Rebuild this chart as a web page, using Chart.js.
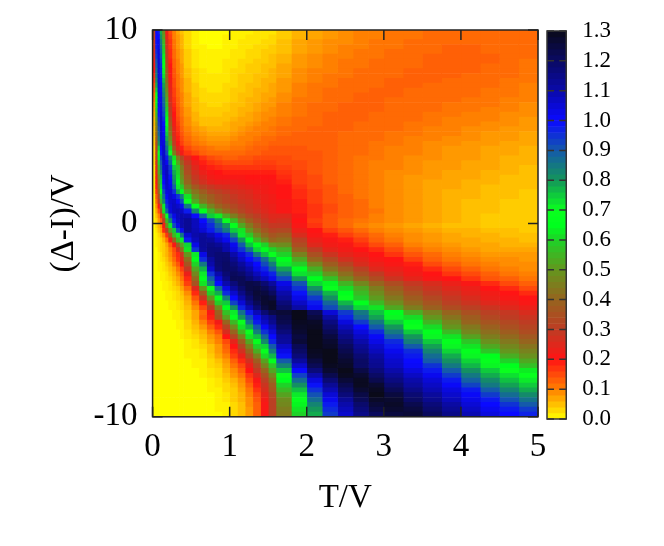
<!DOCTYPE html>
<html>
<head>
<meta charset="utf-8">
<style>
  html, body { margin: 0; background: #fff; }
  canvas { position: absolute; top: 0; }
</style>
<script src="https://cdn.jsdelivr.net/npm/chart.js@4"></script>
</head>
<body>
<canvas id="map" width="664" height="546" style="left:0"></canvas>
<canvas id="bar" width="124" height="546" style="left:540px"></canvas>
<script>
// T/V column edges (finer near 0 where the ridges are narrow)
const tEdges = [0,.03,.06,.09,.12,.16,.2,.25,.3,.35,.4,.5,.6,.7,.8,.9,1,1.1,1.2,1.3,1.4,1.5,1.6,1.8,2,2.2,2.4,2.6,2.8,3,3.25,3.5,3.75,4,4.25,4.5,4.75,5];
// (Δ-I)/V row centres, top to bottom
const yCentres = [9.875,9.625,9.375,9.125,8.875,8.625,8.375,8.125,7.875,7.625,7.375,7.125,6.875,6.625,6.375,6.125,5.875,5.625,5.375,5.125,4.875,4.625,4.375,4.125,3.875,3.625,3.375,3.125,2.875,2.625,2.375,2.125,1.875,1.625,1.375,1.125,.875,.625,.375,.125,-.125,-.375,-.625,-.875,-1.125,-1.375,-1.625,-1.875,-2.125,-2.375,-2.625,-2.875,-3.125,-3.375,-3.625,-3.875,-4.125,-4.375,-4.625,-4.875,-5.125,-5.375,-5.625,-5.875,-6.125,-6.375,-6.625,-6.875,-7.125,-7.375,-7.625,-7.875,-8.125,-8.375,-8.625,-8.875,-9.125,-9.375,-9.625,-9.875];
// cell values x100, one line per row of yCentres
const heat = [
[32,100,98,78,48,22,15,10,7,5,3,1,0,0,0,0,1,1,1,2,2,2,4,6,7,8,9,10,10,11,11,12,12,12,12,12,12],
[30,100,100,81,51,24,16,10,8,6,3,1,0,0,0,1,1,1,2,2,2,3,4,6,7,8,9,10,10,11,11,12,12,12,12,12,12],
[29,99,102,85,55,26,17,11,8,6,3,1,0,0,0,1,1,2,2,2,3,3,5,7,8,9,9,10,11,11,12,12,12,12,12,12,12],
[28,98,103,88,58,27,17,11,8,6,3,1,1,0,0,1,1,2,2,3,3,4,5,7,8,9,10,10,11,11,12,12,13,13,12,12,12],
[26,96,104,90,60,29,18,12,9,7,4,2,1,1,1,1,2,2,3,3,4,4,5,7,8,9,10,11,11,12,12,12,13,13,12,12,12],
[25,94,104,92,63,30,18,12,9,7,4,2,1,1,1,1,2,2,3,3,4,5,6,8,9,10,10,11,11,12,12,13,13,13,13,12,12],
[23,91,105,94,66,32,19,13,10,7,4,2,1,1,1,2,2,3,3,4,4,5,6,8,9,10,11,11,12,12,12,13,13,13,13,12,11],
[21,89,105,96,69,34,20,13,10,8,4,2,1,1,1,2,2,3,4,4,5,5,7,8,9,10,11,11,12,12,12,13,13,13,12,12,11],
[20,86,105,97,71,37,21,14,10,8,5,3,2,1,1,2,3,3,4,4,5,6,7,9,10,10,11,12,12,12,13,13,13,13,12,12,11],
[18,84,105,98,73,39,21,14,11,8,5,3,2,2,2,2,3,4,4,5,5,6,7,9,10,11,11,12,12,12,13,13,13,12,12,12,11],
[17,81,105,99,76,41,22,15,11,9,6,3,2,2,2,2,3,4,4,5,6,6,8,9,10,11,12,12,12,13,13,13,12,12,12,11,11],
[15,78,105,100,79,44,23,15,11,9,6,4,2,2,2,3,3,4,5,5,6,7,8,10,11,11,12,12,12,13,13,12,12,12,12,11,10],
[14,74,104,101,81,47,24,16,12,9,6,4,3,2,2,3,4,4,5,6,6,7,8,10,11,12,12,12,13,13,12,12,12,12,11,11,10],
[12,70,104,102,84,50,25,16,12,10,7,4,3,3,3,3,4,5,5,6,7,7,9,10,11,12,12,13,13,13,12,12,12,12,11,11,10],
[11,67,103,103,87,53,26,17,13,10,7,5,3,3,3,3,4,5,6,6,7,8,9,11,11,12,12,13,13,12,12,12,12,11,11,10,10],
[9,63,102,104,89,56,28,18,13,10,7,5,4,3,3,4,5,5,6,7,8,8,10,11,12,12,13,13,13,12,12,12,11,11,11,10,9],
[8,60,100,104,91,59,30,19,14,11,8,5,4,4,4,4,5,6,6,7,8,9,10,11,12,12,13,13,13,12,12,12,11,11,10,10,9],
[7,56,99,105,93,62,32,20,14,11,8,6,4,4,4,5,5,6,7,8,9,9,10,11,12,13,13,13,12,12,12,11,11,10,10,9,9],
[6,52,96,106,96,65,35,21,15,12,9,6,5,5,5,5,6,7,7,8,9,10,11,12,12,13,13,13,12,12,12,11,10,10,10,9,8],
[6,48,94,106,99,69,38,22,16,12,9,7,5,5,5,6,7,7,8,9,10,10,11,12,12,13,13,12,12,12,11,11,10,10,9,9,8],
[5,44,91,106,101,72,41,24,17,13,10,8,7,6,6,6,7,8,9,10,10,11,12,12,13,13,13,12,12,12,11,10,10,9,9,8,8],
[5,41,88,106,102,75,44,25,18,14,11,9,8,7,7,7,8,9,10,10,11,11,12,13,13,13,12,12,12,11,11,10,10,9,8,8,7],
[4,37,84,105,103,78,48,27,19,15,12,10,9,8,8,8,9,10,10,11,12,12,13,13,13,13,12,12,12,11,10,10,9,9,8,8,7],
[4,34,80,104,104,82,52,29,21,16,13,11,10,9,9,9,10,10,11,12,12,13,13,13,13,13,12,12,11,11,10,9,9,8,8,7,7],
[3,32,74,101,106,87,60,35,24,19,15,13,12,11,10,10,11,11,12,13,13,14,14,14,13,13,12,12,11,10,10,9,8,8,7,7,6],
[3,31,70,99,106,92,70,44,30,22,17,15,13,12,12,12,12,12,13,13,14,14,14,14,14,13,12,12,11,10,10,9,8,8,7,7,6],
[3,29,64,94,107,98,82,62,44,33,25,20,17,15,14,13,13,14,14,15,15,15,15,14,14,13,12,11,11,10,9,9,8,8,7,6,6],
[3,27,60,90,106,102,88,70,52,39,29,23,19,17,16,15,15,15,15,16,16,16,15,15,14,13,12,11,10,10,9,8,8,7,7,6,6],
[2,25,56,87,105,107,94,75,58,44,32,25,21,19,18,17,17,17,17,17,17,17,16,15,14,13,12,11,10,10,9,8,8,7,7,6,5],
[2,24,53,82,104,108,96,78,60,47,34,27,23,21,20,19,19,19,19,19,19,19,17,16,14,13,12,11,10,9,9,8,7,7,6,6,5],
[2,22,49,77,102,108,99,80,62,49,37,29,25,22,21,21,21,21,20,20,20,20,18,16,15,13,12,11,10,9,8,8,7,7,6,5,5],
[2,21,47,75,100,107,101,83,65,52,40,31,27,24,23,23,23,22,21,21,21,21,19,16,15,13,12,11,10,9,8,7,7,6,6,5,5],
[2,19,44,73,97,106,103,89,72,59,45,37,32,29,27,26,25,24,23,22,22,21,20,17,15,14,12,11,10,9,8,7,7,6,5,5,5],
[2,17,40,69,92,104,105,95,78,65,52,43,38,33,31,29,27,26,25,23,22,21,20,18,16,14,12,11,10,9,8,7,6,6,5,5,4],
[1,14,34,60,87,101,106,103,95,84,62,48,42,38,34,32,29,27,26,24,23,22,20,18,16,14,13,11,10,9,8,7,6,6,5,5,4],
[1,12,29,55,82,98,106,107,101,92,70,53,44,39,35,32,30,28,27,25,23,22,21,19,16,14,13,12,10,9,8,7,6,5,5,4,4],
[1,9,21,42,72,95,105,108,106,102,85,68,55,46,40,36,33,30,28,26,24,23,21,19,17,15,13,12,10,9,8,7,6,5,5,4,4],
[1,7,15,33,62,88,104,108,109,107,98,82,66,55,47,41,36,32,29,27,25,23,21,19,17,15,13,12,11,9,8,7,6,5,5,4,4],
[1,5,10,18,42,70,93,103,108,110,109,100,88,75,63,53,45,38,33,30,27,25,25,21,17,14,13,12,10,9,8,7,6,5,4,4,4],
[1,3,8,13,30,56,82,98,107,110,113,108,100,92,82,70,56,45,38,33,29,26,27,20,16,14,12,11,10,9,8,7,6,5,4,4,4],
[0,3,6,9,22,48,72,92,103,110,113,108,103,96,88,80,67,53,44,37,32,29,29,21,17,14,12,10,9,8,7,6,5,5,4,4,4],
[0,2,5,7,18,30,52,75,92,102,113,109,105,98,92,85,75,62,50,42,36,32,33,23,20,16,14,12,10,9,8,7,6,6,5,5,4],
[0,1,3,5,9,17,36,56,72,85,105,110,112,108,103,97,84,72,58,48,41,36,38,26,21,19,16,14,12,10,9,8,7,6,6,5,5],
[0,1,2,3,6,11,22,40,56,72,98,108,113,112,107,102,93,80,66,55,47,40,42,31,23,21,19,16,13,11,9,8,7,7,6,6,5],
[0,1,2,3,4,7,13,21,37,52,74,103,113,115,113,109,102,90,76,66,60,50,48,34,25,22,21,18,15,13,10,9,8,7,7,6,6],
[0,0,2,3,4,6,10,15,26,42,62,95,112,116,116,110,104,95,86,74,66,60,55,39,30,24,22,20,18,15,12,10,9,8,7,7,7],
[0,0,1,2,4,6,9,14,18,28,50,72,103,116,118,118,110,104,96,85,76,69,60,46,35,28,24,22,20,17,14,12,10,9,8,8,8],
[0,0,1,2,3,5,8,12,17,24,42,66,96,112,118,119,114,107,100,95,87,77,65,53,40,33,27,24,21,20,16,13,11,10,9,9,8],
[0,0,1,1,2,4,6,10,14,20,36,60,85,110,118,120,117,112,106,100,92,84,72,59,47,38,32,26,23,21,19,15,13,11,10,9,9],
[0,0,1,1,2,3,5,7,11,16,29,53,77,106,117,120,119,115,110,103,97,90,79,65,54,43,37,31,25,23,21,18,15,13,11,10,9],
[0,0,0,1,1,2,4,6,9,13,23,47,72,95,110,118,121,119,114,108,103,97,86,73,60,50,42,35,30,25,22,20,17,15,13,11,10],
[0,0,0,1,1,2,3,5,7,11,18,41,66,89,105,115,122,122,118,113,108,102,93,80,65,57,47,40,34,28,24,21,20,17,14,13,11],
[0,0,0,0,1,1,2,4,6,9,16,36,62,83,100,110,117,122,124,123,118,112,103,91,74,64,55,47,40,34,29,26,23,21,18,15,13],
[0,0,0,0,1,1,2,3,4,7,12,25,50,70,88,103,112,119,124,125,122,117,106,95,81,69,61,53,45,38,32,28,25,23,20,18,15],
[0,0,0,0,0,1,1,2,3,5,9,18,38,60,78,96,106,115,122,126,125,121,110,99,88,77,65,56,48,41,35,30,27,24,22,20,18],
[0,0,0,0,0,1,1,2,3,4,7,14,28,50,68,84,100,110,119,125,127,125,113,103,94,81,70,59,51,44,38,33,29,26,23,21,20],
[0,0,0,0,0,0,1,1,2,3,6,11,19,39,59,75,93,105,115,122,127,128,117,107,98,88,77,66,56,48,41,36,31,28,25,23,21],
[0,0,0,0,0,0,1,1,2,3,5,9,15,30,48,65,81,97,109,118,125,128,120,111,102,92,83,74,62,53,45,39,34,31,28,25,23],
[0,0,0,0,0,0,0,1,1,2,4,7,12,21,39,57,72,86,98,109,118,124,126,130,122,105,94,85,76,65,54,46,40,35,31,29,26],
[0,0,0,0,0,0,0,1,1,2,4,7,13,19,36,52,66,80,92,102,110,116,124,130,125,111,97,88,79,71,61,50,43,38,33,30,28],
[0,0,0,0,0,0,0,0,1,1,3,6,10,16,22,40,56,70,86,98,107,114,123,129,128,116,104,94,85,75,66,55,47,40,36,33,30],
[0,0,0,0,0,0,0,0,1,1,3,5,8,13,18,32,48,62,78,91,101,109,120,128,129,119,108,100,90,80,70,61,50,44,39,35,32],
[0,0,0,0,0,0,0,0,0,1,2,4,6,10,14,26,40,55,70,84,95,105,117,127,130,122,112,104,96,85,75,66,56,47,42,38,34],
[0,0,0,0,0,0,0,0,0,1,2,3,5,8,11,20,32,46,62,76,88,100,113,125,130,125,115,107,101,90,80,71,62,52,45,41,37],
[0,0,0,0,0,0,0,0,0,0,1,2,4,7,10,15,24,38,53,67,82,97,112,126,130,127,118,110,103,96,84,75,67,58,49,44,40],
[0,0,0,0,0,0,0,0,0,0,1,2,3,5,8,13,20,32,46,60,74,90,107,122,130,128,121,113,106,98,90,79,71,62,53,47,43],
[0,0,0,0,0,0,0,0,0,0,1,1,2,5,8,12,18,27,40,54,68,84,103,120,129,130,123,115,108,102,96,83,74,67,58,50,46],
[0,0,0,0,0,0,0,0,0,0,1,1,2,4,7,10,16,23,34,46,61,77,99,117,128,130,125,118,111,104,98,87,78,71,65,54,49],
[0,0,0,0,0,0,0,0,0,0,0,1,1,3,5,8,13,18,27,38,52,66,90,112,125,130,127,120,113,106,100,90,81,74,68,60,53],
[0,0,0,0,0,0,0,0,0,0,0,1,1,3,4,7,11,15,23,33,46,58,83,106,122,129,128,120,114,107,101,95,85,77,71,65,57],
[0,0,0,0,0,0,0,0,0,0,0,0,1,2,3,6,9,13,20,29,40,53,76,100,117,127,130,124,117,110,104,98,90,81,75,70,63],
[0,0,0,0,0,0,0,0,0,0,0,0,1,2,3,5,8,11,17,25,35,47,70,93,110,123,129,127,120,113,107,102,94,85,78,73,69],
[0,0,0,0,0,0,0,0,0,0,0,0,0,1,2,4,6,9,15,21,31,42,65,87,104,118,126,129,123,116,110,105,98,89,82,76,72],
[0,0,0,0,0,0,0,0,0,0,0,0,0,1,2,3,5,8,13,19,28,38,60,81,99,113,123,129,127,119,112,107,101,93,85,79,75],
[0,0,0,0,0,0,0,0,0,0,0,0,0,1,1,3,4,7,11,17,26,36,56,76,95,109,120,127,129,122,115,109,104,98,90,83,78],
[0,0,0,0,0,0,0,0,0,0,0,0,0,0,1,2,4,6,10,15,24,33,52,72,91,105,117,124,130,125,118,112,106,101,94,87,82],
[0,0,0,0,0,0,0,0,0,0,0,0,0,0,1,2,4,6,9,14,22,31,48,68,87,102,113,122,128,127,120,114,108,103,98,91,86],
[0,0,0,0,0,0,0,0,0,0,0,0,0,0,1,1,3,5,9,13,21,31,47,64,83,98,110,119,126,128,123,117,111,105,100,95,90],
[0,0,0,0,0,0,0,0,0,0,0,0,0,0,1,1,3,5,8,13,21,31,45,62,80,96,108,117,124,127,125,119,113,107,102,98,94],
[0,0,0,0,0,0,0,0,0,0,0,0,0,0,0,1,3,5,8,13,21,31,44,60,78,94,106,115,121,125,126,121,115,109,104,100,97]
];
// colour bar steps x100
const barLevels = [0,2,4,6,8,10,12,14,16,18,20,22,24,26,28,30,32,34,36,38,40,42,44,46,48,50,52,54,56,58,60,62,64,66,68,70,72,74,76,78,80,82,84,86,88,90,92,94,96,98,100,102,104,106,108,110,112,114,116,118,120,122,124,126,128];

// palette stops: value x100, r, g, b
const palette = [
	[0,255,255,0],[10,255,128,0],[20,255,20,20],[30,190,60,35],[40,150,100,30],[50,100,150,30],
	[60,30,210,40],[65,0,255,30],[70,10,255,30],[80,20,150,90],[90,20,90,170],[100,10,10,255],
	[110,10,10,170],[120,10,10,100],[130,10,10,25]
];

function colorOf(v) {
	for (let i = 1; i < palette.length; i++) {
		if (v <= palette[i][0]) {
			const a = palette[i - 1], b = palette[i];
			const f = (v - a[0]) / (b[0] - a[0]);
			const c = [1, 2, 3].map(k => Math.round(a[k] + (b[k] - a[k]) * f));
			return `rgb(${c[0]},${c[1]},${c[2]})`;
		}
	}
	return 'rgb(10,10,25)';
}

// frame and inward ticks, both sides
const framePlugin = {
	id: 'frame',
	afterDatasetsDraw(chart, args, opts) {
		const { ctx, chartArea: a, scales } = chart;
		ctx.save();
		ctx.strokeStyle = opts.color;
		ctx.lineWidth = 1.5;
		ctx.strokeRect(a.left, a.top, a.right - a.left, a.bottom - a.top);
		ctx.beginPath();
		if (opts.xLen) {
			scales.x.ticks.forEach(t => {
				const px = scales.x.getPixelForValue(t.value);
				ctx.moveTo(px, a.bottom); ctx.lineTo(px, a.bottom - opts.xLen);
				ctx.moveTo(px, a.top); ctx.lineTo(px, a.top + opts.xLen);
			});
		}
		scales.y.ticks.forEach(t => {
			const py = scales.y.getPixelForValue(t.value);
			ctx.moveTo(a.left, py); ctx.lineTo(a.left + opts.yLen, py);
			ctx.moveTo(a.right, py); ctx.lineTo(a.right - opts.yLen, py);
		});
		ctx.stroke();
		ctx.restore();
	}
};

const serif = 'Liberation Serif';

const mapDatasets = tEdges.slice(1).map((edge, c) => ({
	data: yCentres.map(y => ({ y: y, x: [tEdges[c], edge] })),
	backgroundColor: heat.map(row => colorOf(row[c])),
	borderWidth: 0,
	grouped: false,
	barPercentage: 1,
	categoryPercentage: 1
}));

new Chart(document.getElementById('map'), {
	type: 'bar',
	data: { datasets: mapDatasets },
	plugins: [framePlugin],
	options: {
		indexAxis: 'y',
		responsive: false,
		animation: false,
		layout: { padding: { left: 45, right: 126, top: 30, bottom: 28 } },
		scales: {
			x: {
				type: 'linear', min: 0, max: 5, offset: false,
				grid: { display: false }, border: { display: false },
				ticks: { stepSize: 1, padding: 3, maxRotation: 0, color: '#000', font: { family: serif, size: 33 } },
				title: { display: true, text: 'T/V', color: '#000', padding: { top: 8, bottom: 0 }, font: { family: serif, size: 33 } }
			},
			y: {
				type: 'linear', min: -10, max: 10, offset: false,
				grid: { display: false }, border: { display: false },
				ticks: { stepSize: 10, padding: 7, color: '#000', font: { family: serif, size: 33 } },
				title: { display: true, text: '(Δ-I)/V', color: '#000', padding: { top: 0, bottom: 2 }, font: { family: serif, size: 33 } }
			}
		},
		plugins: {
			legend: { display: false },
			tooltip: { enabled: false },
			frame: { color: '#222', xLen: 10, yLen: 10 }
		}
	}
});

new Chart(document.getElementById('bar'), {
	type: 'bar',
	data: {
		datasets: [{
			data: barLevels.map(l => ({ y: (l + 1) / 100, x: [0, 1] })),
			backgroundColor: barLevels.map(l => colorOf(l + 1)),
			borderWidth: 0,
			barPercentage: 1,
			categoryPercentage: 1
		}]
	},
	plugins: [framePlugin],
	options: {
		indexAxis: 'y',
		responsive: false,
		animation: false,
		layout: { padding: { left: 7, right: 45, top: 31, bottom: 127 } },
		scales: {
			x: { type: 'linear', min: 0, max: 1, display: false },
			y: {
				type: 'linear', position: 'right', min: 0, max: 1.3, offset: false,
				// the narrow canvas would otherwise cut the labels short
				beforeFit: s => { s.maxWidth = 100; },
				grid: { display: false }, border: { display: false },
				ticks: { stepSize: 0.1, padding: 8, autoSkip: false, color: '#000', font: { family: serif, size: 23 }, callback: v => v.toFixed(1) }
			}
		},
		plugins: {
			legend: { display: false },
			tooltip: { enabled: false },
			frame: { color: '#333', xLen: 0, yLen: 7 }
		}
	}
});
</script>
</body>
</html>
